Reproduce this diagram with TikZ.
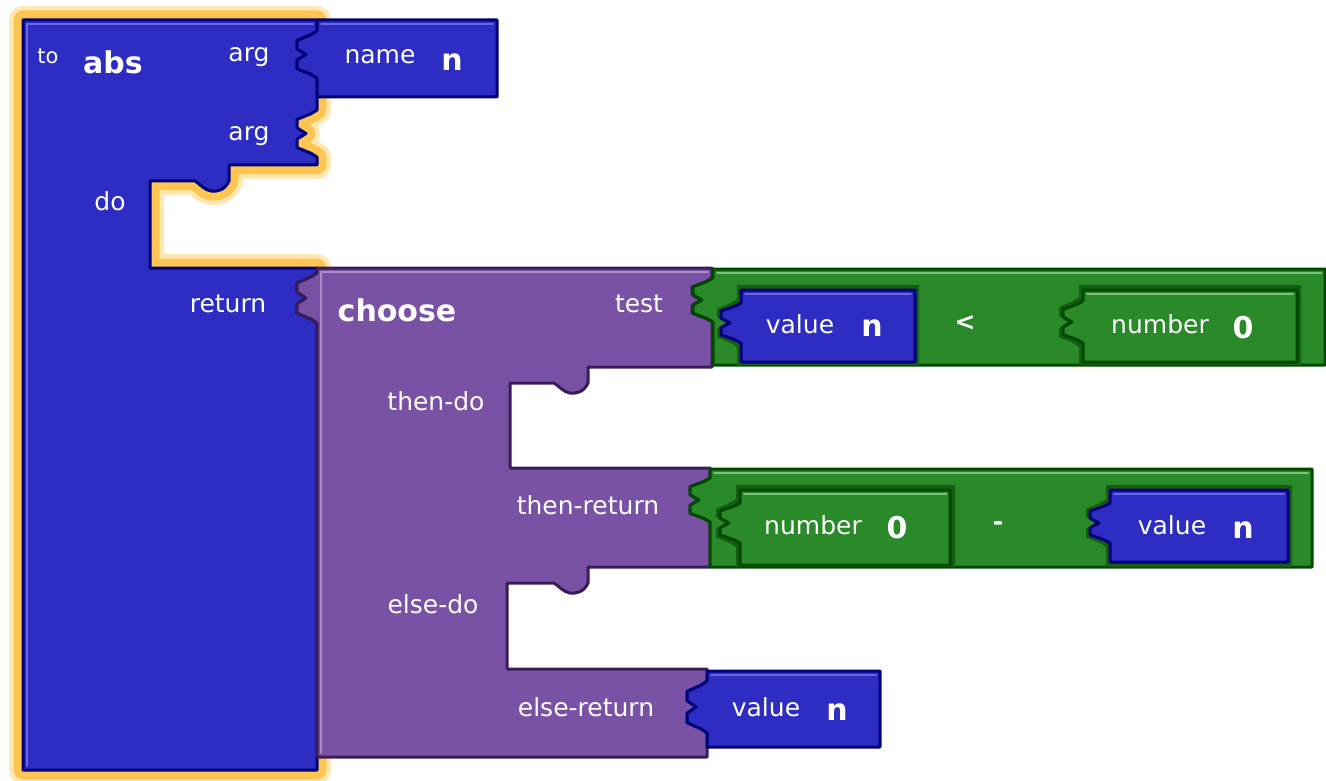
\documentclass[tikz,border=0pt]{standalone}
\usepackage{fontspec}
\setmainfont{DejaVu Sans}

\definecolor{blockblue}{HTML}{2D2DC4}
\definecolor{blueedge}{HTML}{00007A}
\definecolor{bluehilite}{HTML}{6767DE}
\definecolor{blockpurple}{HTML}{7A52A5}
\definecolor{purpleedge}{HTML}{3A1C58}
\definecolor{purplehilite}{HTML}{A88CC6}
\definecolor{blockgreen}{HTML}{2A8A2A}
\definecolor{greenedge}{HTML}{004A00}
\definecolor{greenslot}{HTML}{145F14}
\definecolor{greenhilite}{HTML}{7CC27C}
\definecolor{glowdeep}{HTML}{FFC552}
\definecolor{glowsoft}{HTML}{FFE8B4}

% socket / plug on a vertical edge at x=#1, from y=#2 to y=#3
\newcommand{\sock}[3]{-- (#1,#2) -- ({#1-6},{#2+0.08*(#3-#2)}) -- ({#1-20},{#2+0.2*(#3-#2)})
  -- ({#1-20},{#2+0.38*(#3-#2)}) -- ({#1-11},{#2+0.5*(#3-#2)}) -- ({#1-20},{#2+0.62*(#3-#2)})
  -- ({#1-20},{#2+0.8*(#3-#2)}) -- ({#1-6},{#2+0.92*(#3-#2)}) -- (#1,#3)}
% little tab under a step, mouth top at y=#2
\newcommand{\dent}[2]{-- (#1,#2) .. controls ({#1-4},{#2+9}) and ({#1-12},{#2+11}) .. ({#1-18},{#2+10})
  .. controls ({#1-25},{#2+9}) and ({#1-29},{#2+3}) .. ({#1-34},{#2})}
% block with a plug on its left side
\newcommand{\plugblock}[6]{(#1,#2) -- (#3,#2) -- (#3,#4) -- (#1,#4) \sock{#1}{#6}{#5} -- cycle}
\newcommand{\procshape}{(23,20) -- (317,20) \sock{317}{31}{78} -- (317,110) \sock{317}{110}{157}
  -- (317,165) -- (229,165) \dent{229}{181} -- (150,181) -- (150,268) -- (317,268)
  \sock{317}{273}{323} -- (317,770) -- (23,770) -- cycle}
\newcommand{\chooseshape}{(317,268) -- (712,268) \sock{712}{278}{322} -- (712,367) -- (588,367)
  \dent{588}{383} -- (510,383) -- (510,468) -- (710,468) \sock{710}{478}{522} -- (710,567)
  -- (588,567) \dent{588}{583} -- (507,583) -- (507,669) -- (707,669) \sock{707}{681}{733}
  -- (707,757) -- (317,757) \sock{317}{323}{273} -- cycle}

\tikzset{
  blk/.style={line width=3pt, line join=round},
  blueblk/.style={blk, fill=blockblue, draw=blueedge},
  purpleblk/.style={blk, fill=blockpurple, draw=purpleedge},
  greenblk/.style={blk, fill=blockgreen, draw=greenedge},
  slot/.style={fill=greenslot},
  hilite/.style={line width=2pt, line cap=round},
  lbl/.style={text=white, inner sep=0pt, font=\fontsize{25}{30}\selectfont},
  small/.style={text=white, inner sep=0pt, font=\fontsize{21}{25}\selectfont},
  big/.style={text=white, inner sep=0pt, font=\bfseries\fontsize{30}{34}\selectfont},
  op/.style={text=white, inner sep=0pt, font=\bfseries\fontsize{25}{30}\selectfont}
}

\begin{document}
\begin{tikzpicture}[x=1pt,y=-1pt]
\useasboundingbox (0,0) rectangle (1326,781);
\fill[white] (0,0) rectangle (1326,781);

% procedure "to abs" with its selection glow
\draw[glowsoft, line width=28pt, line join=round] \procshape;
\draw[glowdeep, line width=19pt, line join=round] \procshape;
\draw[blueblk] \procshape;
\draw[hilite, bluehilite] (27,24) -- (313,24);
\draw[hilite, bluehilite] (27,24) -- (27,766);

\draw[blueblk] \plugblock{317}{20}{497}{97}{31}{78};
\draw[hilite, bluehilite] (321,24) -- (493,24);

% choose
\draw[purpleblk] \chooseshape;
\draw[hilite, purplehilite] (321,272) -- (708,272);
\draw[hilite, purplehilite] (321,272) -- (321,753);

% test: value n < number 0
\draw[greenblk] \plugblock{713}{269}{1325}{365}{278}{322};
\draw[hilite, greenhilite] (717,273) -- (1321,273);
\fill[slot] \plugblock{737}{285}{919}{365}{299}{347};
\fill[slot] \plugblock{1079}{285}{1301}{365}{297}{347};
\draw[blueblk] \plugblock{741}{290}{915}{362}{303}{343};
\draw[hilite, bluehilite] (745,294) -- (911,294);
\draw[greenblk] \plugblock{1083}{290}{1297}{362}{301}{343};
\draw[hilite, greenhilite] (1087,294) -- (1293,294);

% then-return: number 0 - value n
\draw[greenblk] \plugblock{710}{469}{1312}{567}{478}{522};
\draw[hilite, greenhilite] (714,473) -- (1308,473);
\fill[slot] \plugblock{736}{485}{955}{567}{499}{547};
\fill[slot] \plugblock{1106}{485}{1292}{567}{499}{547};
\draw[greenblk] \plugblock{740}{490}{950}{565}{503}{543};
\draw[hilite, greenhilite] (744,494) -- (946,494);
\draw[blueblk] \plugblock{1110}{490}{1288}{562}{503}{543};
\draw[hilite, bluehilite] (1114,494) -- (1284,494);

% else-return: value n
\draw[blueblk] \plugblock{707}{671}{880}{747}{681}{733};
\draw[hilite, bluehilite] (711,675) -- (876,675);

\node[small] (to) at (48,56) {to};
\node[big] (abs) at (113,62) {abs};
\node[lbl] (arga) at (249,57) {arg};
\node[lbl] (argb) at (249,136) {arg};
\node[lbl] (name) at (380,57) {name};
\node[big] (namen) at (452,62) {n};
\node[lbl] (do) at (110,201) {do};
\node[lbl] (return) at (228,304) {return};
\node[big] (choose) at (397,310) {choose};
\node[lbl] (test) at (639,304) {test};
\node[lbl] (testval) at (800,324) {value};
\node[big] (testvaln) at (872,328) {n};
\node[op] (less) at (965,323) {<};
\node[lbl] (testnum) at (1160,324) {number};
\node[big] (testnum0) at (1243,328) {0};
\node[lbl] (thendo) at (436,401) {then-do};
\node[lbl] (thenret) at (588,505) {then-return};
\node[lbl] (retnum) at (813,525) {number};
\node[big] (retnum0) at (897,528) {0};
\node[op] (minus) at (998,526) {-};
\node[lbl] (retval) at (1172,525) {value};
\node[big] (retvaln) at (1243,530) {n};
\node[lbl] (elsedo) at (433,604) {else-do};
\node[lbl] (elseret) at (586,707) {else-return};
\node[lbl] (elseval) at (766,707) {value};
\node[big] (elsevaln) at (837,712) {n};
\end{tikzpicture}
\end{document}
